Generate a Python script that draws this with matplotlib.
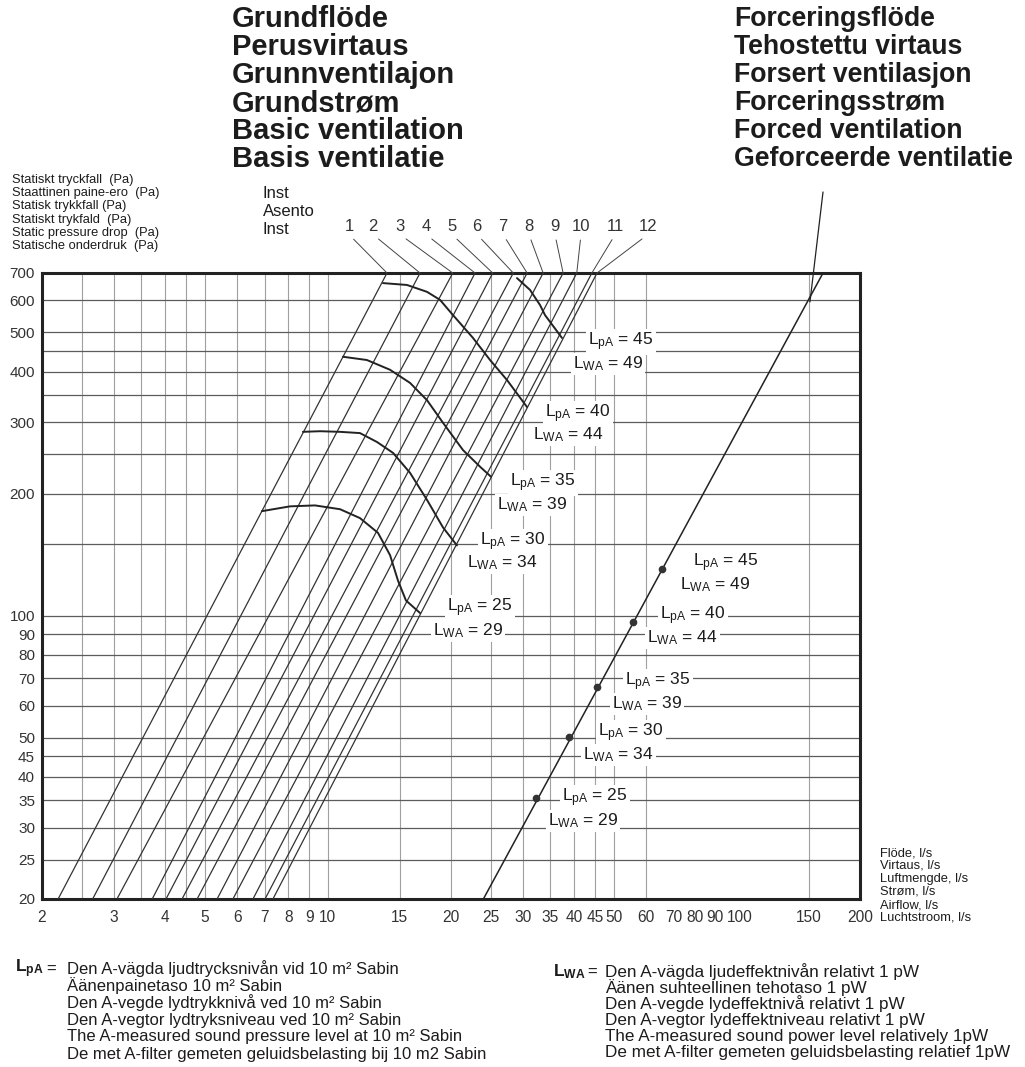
import matplotlib
matplotlib.use("Agg")
import matplotlib.pyplot as plt
from matplotlib.ticker import NullLocator
from matplotlib.transforms import ScaledTranslation

plt.rcParams['font.family'] = ['Liberation Sans', 'DejaVu Sans']
plt.rcParams['mathtext.fontset'] = 'custom'
plt.rcParams['mathtext.rm'] = 'Liberation Sans'
plt.rcParams['mathtext.bf'] = 'Liberation Sans:bold'
plt.rcParams['mathtext.it'] = 'Liberation Sans:italic'

W, H = 1025, 1067
INK = '#1c1c1c'

# --- data ---------------------------------------------------------------
flow_ticks = [2, 3, 4, 5, 6, 7, 8, 9, 10, 15, 20, 25, 30, 35, 40, 45, 50,
              60, 70, 80, 90, 100, 150, 200]
pa_ticks = [20, 25, 30, 35, 40, 45, 50, 60, 70, 80, 90, 100,
            200, 300, 400, 500, 600, 700]
grid_flow = [2.5, 3, 3.5, 4, 4.5, 5, 6, 7, 8, 9, 10, 15, 20, 25, 30, 35,
             40, 45, 50, 60, 150]
grid_pa = [25, 30, 35, 40, 45, 50, 60, 70, 80, 90, 100, 150, 200, 250,
           300, 350, 400, 450, 500, 600]

# damper settings 1-12: flow where each system line crosses 20 Pa and 700 Pa
inst = [1, 2, 3, 4, 5, 6, 7, 8, 9, 10, 11, 12]
inst_flow_20 = [2.19, 2.66, 3.05, 3.72, 4.02, 4.40, 4.79, 5.36, 5.86, 6.56, 7.02, 7.34]
inst_flow_700 = [13.95, 16.8, 20.2, 22.9, 25.3, 28.4, 30.7, 33.6, 37.6, 40.6, 44.2, 45.5]

# basic ventilation fan curves, one per sound level
fan25_flow = [6.90, 8.08, 9.30, 10.71, 11.98, 13.26, 14.19, 14.84, 15.52, 16.80]
fan25_pa = [181, 186, 187, 183, 174, 160, 141, 122, 109, 101.5]
fan30_flow = [8.69, 9.57, 10.71, 11.98, 13.19, 14.43, 15.88, 17.47, 19.12, 20.68]
fan30_pa = [284, 285, 284, 282, 268, 252, 225, 193, 165, 149]
fan35_flow = [10.89, 12.46, 14.19, 15.88, 17.47, 19.12, 21.40, 23.55, 25.06]
fan35_pa = [435, 427, 404, 375, 340, 299, 256, 233, 220]
fan40_flow = [13.64, 15.61, 17.47, 18.80, 20.23, 22.64, 24.92, 27.42, 30.68]
fan40_pa = [661, 654, 629, 601, 551, 484, 427, 381, 327]
fan45_flow = [29.0, 31.2, 33.0, 33.96, 37.36]
fan45_pa = [680, 636, 584, 551, 484]

lpa = [25, 30, 35, 40, 45]
lwa = [29, 34, 39, 44, 49]

# forced ventilation line and its operating points
forced_flow = [24.0, 162.4]
forced_pa = [20, 700]
forced_dot_flow = [32.3, 38.9, 45.5, 55.7, 65.6]
forced_dot_pa = [35.5, 50.2, 66.7, 96.5, 130.3]

# --- layout ---------------------------------------------------------------
inst_label_flow = [11.26, 12.89, 15.01, 17.38, 20.11, 23.16, 26.81, 31.02,
                   35.91, 41.58, 50.4, 60.6]
# (x, y) pixel anchors of the LpA / LWA labels, left edge / centre
basic_lpa_xy = [(447, 608), (480, 542), (510, 483), (545, 414), (588, 342)]
basic_lwa_xy = [(433, 631), (467, 563), (497, 505), (533, 435), (573, 364)]
forced_lpa_xy = [(562, 798), (598, 733), (625, 682), (660, 616), (693, 563)]
forced_lwa_xy = [(548, 821), (583, 755), (612, 704), (647, 638), (680, 585)]


def fx(x):
    return x / W


def fy(y):
    return 1 - y / H


fig = plt.figure(figsize=(W / 100, H / 100), dpi=100)
fig.patch.set_facecolor('white')
ax = fig.add_axes([42 / W, 1 - 899 / H, 818 / W, 626 / H])
ax.set_xscale('log')
ax.set_yscale('log')
ax.set_xlim(2, 200)
ax.set_ylim(20, 700)

for g in grid_flow:
    ax.axvline(g, color='#a0a0a0', lw=0.8, zorder=1)
for g in grid_pa:
    ax.axhline(g, color='#5c5c5c', lw=0.9, zorder=1)

ax.set_xticks(flow_ticks)
ax.set_xticklabels([f'{v:g}' for v in flow_ticks])
ax.set_yticks(pa_ticks)
ax.set_yticklabels([f'{v:g}' for v in pa_ticks])
ax.xaxis.set_minor_locator(NullLocator())
ax.yaxis.set_minor_locator(NullLocator())
ax.tick_params(axis='x', length=0, labelsize=11.2, colors='#333333', pad=8)
ax.tick_params(axis='y', length=0, labelsize=11, colors='#333333', pad=5)
for s in ax.spines.values():
    s.set_linewidth(2.2)
    s.set_color('#222222')

# the 80 / 90 / 100 labels sit tight together; nudge them apart
nudge = {80: -2, 90: -3, 100: 3}
for v, lab in zip(flow_ticks, ax.get_xticklabels()):
    if v in nudge:
        lab.set_transform(lab.get_transform() +
                          ScaledTranslation(nudge[v] / 100, 0, fig.dpi_scale_trans))

# system lines for each damper setting, with numbered leaders above the frame
for n, a, b, lx in zip(inst, inst_flow_20, inst_flow_700, inst_label_flow):
    ax.plot([a, b], [20, 700], color='#333333', lw=0.9, zorder=3)
    ax.annotate(str(n), xy=(b, 700), xycoords='data',
                xytext=(lx, 1.0735), textcoords=('data', 'axes fraction'),
                ha='center', va='center', fontsize=12, color='#333333',
                arrowprops=dict(arrowstyle='-', color='#444444', lw=0.7,
                                shrinkA=2, shrinkB=0, relpos=(0.5, 0)),
                annotation_clip=False)

fans = [(fan25_flow, fan25_pa), (fan30_flow, fan30_pa), (fan35_flow, fan35_pa),
        (fan40_flow, fan40_pa), (fan45_flow, fan45_pa)]
for fl, pa in fans:
    ax.plot(fl, pa, color='#222222', lw=1.4, zorder=4, solid_capstyle='round')

ax.plot(forced_flow, forced_pa, color='#222222', lw=1.1, zorder=4)
ax.plot(forced_dot_flow, forced_dot_pa, 'o', color='#333333', ms=4.5, zorder=5)
ax.annotate('', xy=(150.9, 594), xytext=(162.4, 1109),
            arrowprops=dict(arrowstyle='-', color='#222222', lw=0.9,
                            shrinkA=0, shrinkB=0),
            annotation_clip=False)

label_box = dict(facecolor='white', edgecolor='none', pad=1.5)
for p, w, (x1, y1), (x2, y2) in zip(lpa, lwa, basic_lpa_xy, basic_lwa_xy):
    fig.text(fx(x1), fy(y1), r'L$_{\mathrm{pA}}$ = %d' % p, fontsize=12.5,
             ha='left', va='center', color=INK, bbox=label_box)
    fig.text(fx(x2), fy(y2), r'L$_{\mathrm{WA}}$ = %d' % w, fontsize=12.5,
             ha='left', va='center', color=INK, bbox=label_box)
for p, w, (x1, y1), (x2, y2) in zip(lpa, lwa, forced_lpa_xy, forced_lwa_xy):
    fig.text(fx(x1), fy(y1), r'L$_{\mathrm{pA}}$ = %d' % p, fontsize=12.5,
             ha='left', va='center', color=INK, bbox=label_box)
    fig.text(fx(x2), fy(y2), r'L$_{\mathrm{WA}}$ = %d' % w, fontsize=12.5,
             ha='left', va='center', color=INK, bbox=label_box)

# headings
basic_title = ['Grundflöde', 'Perusvirtaus', 'Grunnventilajon', 'Grundstrøm',
               'Basic ventilation', 'Basis ventilatie']
forced_title = ['Forceringsflöde', 'Tehostettu virtaus', 'Forsert ventilasjon',
                'Forceringsstrøm', 'Forced ventilation', 'Geforceerde ventilatie']
title_y = [19, 47, 75, 103, 131, 159]
for t, y in zip(basic_title, title_y):
    fig.text(fx(232), fy(y), t, fontsize=21, fontweight='bold', color=INK,
             ha='left', va='center')
for t, y in zip(forced_title, title_y):
    fig.text(fx(734), fy(y), t, fontsize=19.2, fontweight='bold', color=INK,
             ha='left', va='center')

y_title = ['Statiskt tryckfall  (Pa)', 'Staattinen paine-ero  (Pa)',
           'Statisk trykkfall (Pa)', 'Statiskt trykfald  (Pa)',
           'Static pressure drop  (Pa)', 'Statische onderdruk  (Pa)']
for i, t in enumerate(y_title):
    fig.text(fx(12), fy(180 + 13.2 * i), t, fontsize=9.3, color=INK,
             ha='left', va='center')

for t, y in zip(['Inst', 'Asento', 'Inst'], [193, 212, 230]):
    fig.text(fx(263), fy(y), t, fontsize=12, color=INK, ha='left', va='center')

x_title = ['Flöde, l/s', 'Virtaus, l/s', 'Luftmengde, l/s', 'Strøm, l/s',
           'Airflow, l/s', 'Luchtstroom, l/s']
for i, t in enumerate(x_title):
    fig.text(fx(880), fy(853 + 13 * i), t, fontsize=9.3, color=INK,
             ha='left', va='center')

# legend for the two sound levels
lpa_text = ['Den A-vägda ljudtrycksnivån vid 10 m² Sabin',
            'Äänenpainetaso 10 m² Sabin',
            'Den A-vegde lydtrykknivå ved 10 m² Sabin',
            'Den A-vegtor lydtryksniveau ved 10 m² Sabin',
            'The A-measured sound pressure level at 10 m² Sabin',
            'De met A-filter gemeten geluidsbelasting bij 10 m2 Sabin']
lwa_text = ['Den A-vägda ljudeffektnivån relativt 1 pW',
            'Äänen suhteellinen tehotaso 1 pW',
            'Den A-vegde lydeffektnivå relativt 1 pW',
            'Den A-vegtor lydeffektniveau relativt 1 pW',
            'The A-measured sound power level relatively 1pW',
            'De met A-filter gemeten geluidsbelasting relatief 1pW']

fig.text(fx(15), fy(969), r'$\mathbf{L_{pA}}$', fontsize=12.5, color=INK,
         ha='left', va='center')
fig.text(fx(46), fy(969), '=', fontsize=12, color=INK, ha='left', va='center')
for i, t in enumerate(lpa_text):
    fig.text(fx(67), fy(969 + 17 * i), t, fontsize=12, color=INK,
             ha='left', va='center')

fig.text(fx(553), fy(972), r'$\mathbf{L_{WA}}$', fontsize=12.5, color=INK,
         ha='left', va='center')
fig.text(fx(587), fy(972), '=', fontsize=12, color=INK, ha='left', va='center')
for i, t in enumerate(lwa_text):
    fig.text(fx(605), fy(972 + 16 * i), t, fontsize=12.3, color=INK,
             ha='left', va='center')

fig.savefig('out.png', dpi=100, facecolor='white')
